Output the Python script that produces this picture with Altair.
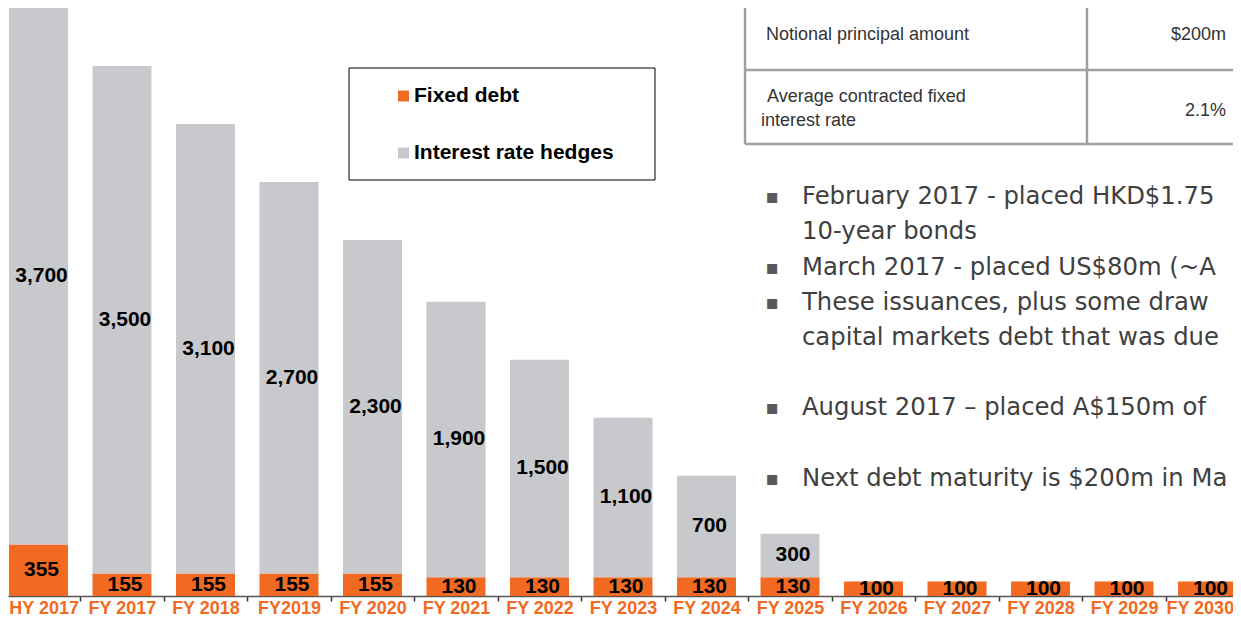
import altair as alt
import pandas as pd

# ---- data ----
categories = ["HY 2017", "FY 2017", "FY 2018", "FY2019", "FY 2020", "FY 2021", "FY 2022",
              "FY 2023", "FY 2024", "FY 2025", "FY 2026", "FY 2027", "FY 2028", "FY 2029", "FY 2030"]
fixed_debt = [355, 155, 155, 155, 155, 130, 130, 130, 130, 130, 100, 100, 100, 100, 100]
rate_hedges = [3700, 3500, 3100, 2700, 2300, 1900, 1500, 1100, 700, 300, 0, 0, 0, 0, 0]
series = ["Fixed debt", "Interest rate hedges"]
series_colors = ["#F26A21", "#C8C9CC"]

table_rows = ["Notional principal amount", "Average contracted fixed\ninterest rate"]
table_values = ["$200m", "2.1%"]

bullet_lines = [
    ("February 2017 - placed HKD$1.75", True),
    ("10-year bonds", False),
    ("March 2017 - placed US$80m (~A", True),
    ("These issuances, plus some draw", True),
    ("capital markets debt that was due", False),
    ("August 2017 \u2013 placed A$150m of", True),
    ("Next debt maturity is $200m in Ma", True),
]

rows = []
for i, cat in enumerate(categories):
    for k, (name, vals) in enumerate(zip(series, [fixed_debt, rate_hedges])):
        if vals[i] > 0:
            rows.append({"idx": i, "category": cat, "series": name, "order": k, "value": vals[i]})
df = pd.DataFrame(rows)

W, H = 1225, 588
ORANGE = "#F26A21"
x_scale = alt.Scale(domain=[-0.365, 14.305], nice=False, zero=False, padding=0)
y_scale = alt.Scale(domain=[0, 4055], nice=False, zero=True, padding=0)

n_cat = len(categories)
label_expr = "[" + ",".join("'" + c + "'" for c in categories) + "][round(datum.value)]"
label_offset = {
    "condition": [
        {"test": "datum.value == 0", "value": -36.5},
        {"test": "datum.value == %d" % (n_cat - 1), "value": -49.5},
    ],
    "value": -41.75,
}

base = alt.Chart(df)

bars = base.mark_bar(size=59, orient="vertical").encode(
    x=alt.X("idx:Q", scale=x_scale,
            axis=alt.Axis(values=list(range(n_cat)), labelExpr=label_expr, title=None,
                          grid=False, ticks=True, tickSize=5, tickColor="#333333", tickWidth=1.5,
                          tickOffset=41.75, labelOffset=label_offset, domainColor="#555555",
                          domainWidth=1.5, labelFont="Liberation Sans", labelFontSize=18,
                          labelFontWeight="bold", labelColor=ORANGE, labelBaseline="alphabetic",
                          labelPadding=12, labelOverlap=False, labelBound=False, labelFlush=False)),
    y=alt.Y("value:Q", stack="zero", scale=y_scale, axis=None),
    color=alt.Color("series:N", scale=alt.Scale(domain=series, range=series_colors),
                    legend=alt.Legend(title=None, orient="none", legendX=385, legendY=77.5,
                                      direction="vertical", symbolType="square", symbolSize=121,
                                      symbolStrokeWidth=0, symbolOpacity=1,
                                      labelFont="Liberation Sans", labelFontSize=21,
                                      labelFontWeight="bold", labelColor="#000000", labelOffset=0,
                                      rowPadding=35, padding=0, labelLimit=400)),
    order=alt.Order("order:Q", sort="ascending"),
)

labels = base.transform_stack(
    stack="value", groupby=["idx"], as_=["v0", "v1"],
    sort=[alt.SortField("order", order="ascending")]
).transform_calculate(mid="(datum.v0 + datum.v1) / 2").mark_text(
    font="Liberation Sans", fontSize=21, fontWeight="bold", color="#000000",
    baseline="middle", align="center", dx=3
).encode(
    x=alt.X("idx:Q", scale=x_scale),
    y=alt.Y("mid:Q", scale=y_scale, axis=None),
    text=alt.Text("value:Q", format=","),
)

one = alt.Chart(pd.DataFrame({"k": [0]}))

legend_box = one.mark_rect(fill="white", stroke="#000000", strokeWidth=1).encode(
    x=alt.value(341), x2=alt.value(647), y=alt.value(60), y2=alt.value(172))

GRID = "#A0A0A4"
TXT = "#333333"
table_layers = [
    one.mark_rule(color=GRID, strokeWidth=2.5).encode(x=alt.value(737), y=alt.value(0), y2=alt.value(136)),
    one.mark_rule(color=GRID, strokeWidth=2.5).encode(x=alt.value(1079), y=alt.value(0), y2=alt.value(136)),
    one.mark_rule(color=GRID, strokeWidth=2.5).encode(x=alt.value(737), x2=alt.value(1225), y=alt.value(62)),
    one.mark_rule(color=GRID, strokeWidth=2.5).encode(x=alt.value(737), x2=alt.value(1225), y=alt.value(136)),
    one.mark_text(text=table_rows[0], font="Liberation Sans", fontSize=18, color=TXT,
                  align="left", baseline="middle").encode(x=alt.value(758), y=alt.value(27)),
    one.mark_text(text=table_values[0], font="Liberation Sans", fontSize=18, color=TXT,
                  align="right", baseline="middle").encode(x=alt.value(1218), y=alt.value(27)),
    one.mark_text(text=table_rows[1].split("\n")[0], font="Liberation Sans", fontSize=18, color=TXT,
                  align="left", baseline="middle").encode(x=alt.value(759), y=alt.value(89)),
    one.mark_text(text=table_rows[1].split("\n")[1], font="Liberation Sans", fontSize=18, color=TXT,
                  align="left", baseline="middle").encode(x=alt.value(753), y=alt.value(113)),
    one.mark_text(text=table_values[1], font="Liberation Sans", fontSize=18, color=TXT,
                  align="right", baseline="middle").encode(x=alt.value(1218), y=alt.value(103)),
]

bullet_y = [189, 224, 260, 295, 330, 400, 471]
bullet_layers = []
for (txt, has_bullet), yy in zip(bullet_lines, bullet_y):
    bullet_layers.append(
        one.mark_text(text=txt, font="DejaVu Sans", fontSize=24.3, color="#404040",
                      align="left", baseline="middle").encode(x=alt.value(794), y=alt.value(yy)))
    if has_bullet:
        bullet_layers.append(
            one.mark_text(text="\u25AA", font="DejaVu Sans", fontSize=20, color="#595959",
                          align="center", baseline="middle").encode(x=alt.value(764), y=alt.value(yy)))

chart = alt.layer(bars, labels, legend_box, *table_layers, *bullet_layers).properties(
    width=W, height=H,
    autosize=alt.AutoSizeParams(type="none"),
    padding={"left": 0, "top": 0, "right": 0, "bottom": 21},
    background="white",
).configure_view(strokeWidth=0)

chart.save("out.html", embed_options={"renderer": "svg", "actions": False})
